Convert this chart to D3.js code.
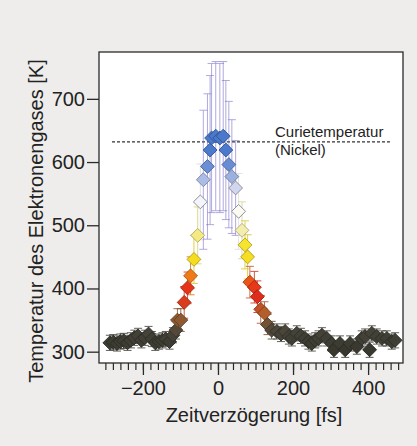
<!DOCTYPE html>
<html><head><meta charset="utf-8">
<script src="https://cdn.jsdelivr.net/npm/d3@7"></script>
<style>
html,body{margin:0;padding:0;background:#eeedeb;}
svg{display:block;}
text{font-family:"Liberation Sans",Arial,Helvetica,sans-serif;fill:#222;}
</style></head>
<body>
<svg id="c" width="417" height="446"></svg>
<script>
// ---- data ----
const times = [-288,-279,-269,-260,-251,-241,-232,-223,-213,-204,
  -195,-185,-176,-167,-157,-148,-139,-129,-120,-112,
  -108,-99,-90,-81,-73,-64,-54,-47,-39,-28,
  -21,-17,-6,5,14,21,29,37,47,55,
  64,72,79,85,97,105,114,124,132,143,
  157,168,179,189,197,210,221,232,241,250,
  259,268,277,290,303,309,325,339,352,370,
  383,392,404,410,423,437,450,463,472];
const temps = [314,315,313,316,317,314,318,322,325,318,
  322,328,320,314,316,318,320,316,326,334,
  350,350,378,401,420,446,484,537,572,593,
  619,638,641,638,641,619,596,577,559,522,
  492,469,450,410,402,387,367,361,343,334,
  332,328,332,324,321,329,325,321,316,313,
  318,321,326,321,313,303,313,303,313,308,
  321,324,303,329,324,321,321,316,318];
const errs = [12,12,12,12,12,12,12,12,12,12,
  12,12,12,12,12,12,12,12,12,14,
  18,18,25,25,30,38,45,60,110,115,
  118,118,118,118,118,110,100,90,75,60,
  45,38,35,25,25,25,22,18,16,14,
  12,12,12,12,12,12,12,12,12,12,
  12,12,12,12,12,12,12,12,12,12,
  12,12,12,12,12,12,12,12,12];
const yTicks = [300,400,500,600,700];
const xMajorTicks = [-200,0,200,400];
const xMinorTicks = d3.range(-300,481,20);
const curieT = 632;
const curieLabel = ["Curietemperatur","(Nickel)"];
const xTitle = "Zeitverzögerung [fs]";
const yTitle = "Temperatur des Elektronengases [K]";

// ---- layout ----
const L=99, R=403, T=52, B=363;
const svg = d3.select("#c");
const x = d3.scaleLinear().domain([-317,493]).range([L,R]);
const y = d3.scaleLinear().domain([282.1,774.1]).range([B,T]);
const color = d3.scaleLinear()
  .domain([305,330,345,360,375,395,420,445,470,495,530,565,590,620])
  .range(["#38382f","#45433a","#7a5535","#b0602c","#d8401c","#e41e1a","#ef7a16","#f6dc1e","#f6e430","#f3efc0","#ffffff","#c5cdea","#6f92d6","#4a78cc"])
  .clamp(true);

svg.append("rect").attr("x",L).attr("y",T).attr("width",R-L).attr("height",B-T)
  .attr("fill","#fff");

// curie line
svg.append("line").attr("x1",112).attr("x2",390).attr("y1",y(curieT)).attr("y2",y(curieT))
  .attr("stroke","#333").attr("stroke-width",1.2).attr("stroke-dasharray","3,2");
svg.append("text").attr("x",275).attr("y",y(curieT)-4.5).attr("font-size",15).text(curieLabel[0]);
svg.append("text").attr("x",275).attr("y",y(curieT)+13.5).attr("font-size",15).text(curieLabel[1]);

const data = times.map((t,i)=>({t, v:temps[i], e:errs[i]}));

// error bars
const eb = svg.append("g");
data.forEach(d=>{
  const c = d3.color(color(d.v));
  const big = d.v>540;
  let sc = big ? d3.rgb(120,110,200) : c.darker(0.35);
  const g = eb.append("g").attr("stroke",sc).attr("stroke-width",big?0.9:1).attr("opacity",big?0.65:0.8);
  const xx = x(d.t);
  g.append("line").attr("x1",xx).attr("x2",xx).attr("y1",y(d.v+d.e)).attr("y2",y(d.v-d.e));
  g.append("line").attr("x1",xx-4).attr("x2",xx+4).attr("y1",y(d.v+d.e)).attr("y2",y(d.v+d.e));
  g.append("line").attr("x1",xx-4).attr("x2",xx+4).attr("y1",y(d.v-d.e)).attr("y2",y(d.v-d.e));
});

// markers
const sym = d3.symbol().type(d3.symbolSquare).size(96);
svg.append("g").selectAll("path").data(data).join("path")
  .attr("d",sym)
  .attr("transform",d=>`translate(${x(d.t)},${y(d.v)}) rotate(45)`)
  .attr("fill",d=>color(d.v))
  .attr("stroke",d=>{const c=d3.color(color(d.v)); return d.v>500&&d.v<560? "#8a8a98" : c.darker(0.9);})
  .attr("stroke-width",0.9);

// frame
svg.append("rect").attr("x",L).attr("y",T).attr("width",R-L).attr("height",B-T)
  .attr("fill","none").attr("stroke","#2a2a2a").attr("stroke-width",1.3);

// y axis
const ya = svg.append("g").attr("transform",`translate(${L},0)`)
  .call(d3.axisLeft(y).tickValues(yTicks).tickSize(12).tickPadding(2).tickFormat(d3.format("d")));
ya.select(".domain").remove();
ya.selectAll("line").attr("stroke","#2a2a2a").attr("stroke-width",1.3);
ya.selectAll("text").attr("font-size",20).attr("fill","#222")
  .attr("font-family","'Liberation Sans',Arial,sans-serif");

// x axis minor
const xm = svg.append("g").attr("transform",`translate(0,${B})`)
  .call(d3.axisBottom(x).tickValues(xMinorTicks).tickSize(7).tickFormat(""));
xm.select(".domain").remove();
xm.selectAll("line").attr("stroke","#2a2a2a").attr("stroke-width",1.2);
// x axis major
const xa = svg.append("g").attr("transform",`translate(0,${B})`)
  .call(d3.axisBottom(x).tickValues(xMajorTicks).tickSize(12).tickPadding(6));
xa.select(".domain").remove();
xa.selectAll("line").attr("stroke","#2a2a2a").attr("stroke-width",1.3);
xa.selectAll("text").attr("font-size",20).attr("fill","#222")
  .attr("font-family","'Liberation Sans',Arial,sans-serif");

// titles
svg.append("text").attr("x",254).attr("y",422).attr("text-anchor","middle")
  .attr("font-size",20).text(xTitle);
svg.append("text").attr("transform","translate(43,221) rotate(-90)").attr("text-anchor","middle")
  .attr("font-size",20).text(yTitle);
</script>
</body></html>
